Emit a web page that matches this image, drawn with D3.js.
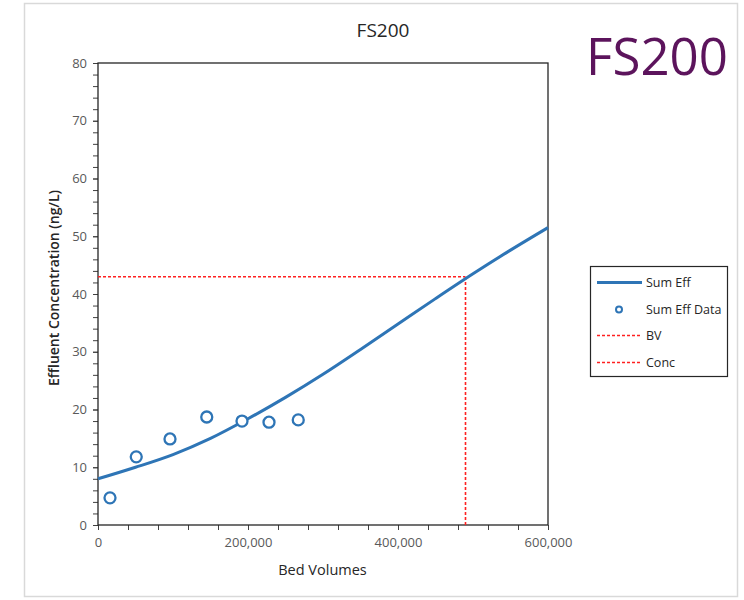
<!DOCTYPE html>
<html>
<head>
<meta charset="utf-8">
<script src="https://cdn.jsdelivr.net/npm/d3@7"></script>
<style>
  body { margin: 0; background: #fff; }
  text { font-family: "Open Sans", "Liberation Sans", sans-serif; }
</style>
</head>
<body>
<svg width="744" height="600"></svg>
<script>
// fitted curve (Sum Eff)
var curveBV = [0, 50000, 100000, 150000, 200000, 250000, 300000, 350000, 400000, 450000, 500000, 550000, 600000];
var curveConc = [8.0, 10.0, 12.2, 15.0, 18.4, 22.1, 26.1, 30.4, 34.8, 39.2, 43.5, 47.6, 51.5];

// measured points (Sum Eff Data)
var dataBV = [16000, 51000, 96000, 145000, 192000, 228000, 267000];
var dataConc = [4.7, 11.8, 14.9, 18.7, 18.0, 17.8, 18.2];

// breakthrough marker
var markBV = 490000;
var markConc = 43;

var xTicks = [0, 200000, 400000, 600000];
var yTicks = [0, 10, 20, 30, 40, 50, 60, 70, 80];
var legendNames = ["Sum Eff", "Sum Eff Data", "BV", "Conc"];

var blue = "#2e75b6", red = "#ff2020", grey = "#595959";

var svg = d3.select("svg");

// outer frame
svg.append("rect")
	.attr("x", 24.5).attr("y", 3.5)
	.attr("width", 713).attr("height", 593)
	.attr("fill", "#fff")
	.attr("stroke", "#d9d9d9")
	.attr("stroke-width", 1.5);

var pLeft = 98, pTop = 63, pRight = 548, pBottom = 525;

var x = d3.scaleLinear().domain([0, 600000]).range([pLeft, pRight]);
var y = d3.scaleLinear().domain([0, 80]).range([pBottom, pTop]);

// minor ticks
svg.append("g")
	.attr("transform", "translate(" + pLeft + ",0)")
	.call(d3.axisLeft(y).tickValues(d3.range(0, 81, 2)).tickSize(5).tickFormat(""))
	.call(function (g) { g.select(".domain").remove(); })
	.selectAll("line").attr("stroke", "#404040");

svg.append("g")
	.attr("transform", "translate(0," + pBottom + ")")
	.call(d3.axisBottom(x).tickValues(d3.range(0, 600001, 40000)).tickSize(5).tickFormat(""))
	.call(function (g) { g.select(".domain").remove(); })
	.selectAll("line").attr("stroke", "#404040");

// labelled ticks
var yAxis = svg.append("g")
	.attr("transform", "translate(" + pLeft + ",0)")
	.call(d3.axisLeft(y).tickValues(yTicks).tickSize(5).tickPadding(6));
yAxis.select(".domain").remove();
yAxis.selectAll("line").attr("stroke", "#404040");
yAxis.selectAll("text").attr("fill", grey).style("font-size", "13px")
	.style("font-family", "'Open Sans', sans-serif");

var xAxis = svg.append("g")
	.attr("transform", "translate(0," + pBottom + ")")
	.call(d3.axisBottom(x).tickValues(xTicks).tickSize(5).tickPadding(8).tickFormat(d3.format(",")));
xAxis.select(".domain").remove();
xAxis.selectAll("line").attr("stroke", "#404040");
xAxis.selectAll("text").attr("fill", grey).style("font-size", "13px")
	.style("font-family", "'Open Sans', sans-serif");

// plot box
svg.append("rect")
	.attr("x", pLeft).attr("y", pTop)
	.attr("width", pRight - pLeft).attr("height", pBottom - pTop)
	.attr("fill", "none")
	.attr("stroke", "#262626")
	.attr("stroke-width", 1.3);

// dashed guides
svg.append("path")
	.attr("d", d3.line()([[x(0), y(markConc)], [x(markBV), y(markConc)]]))
	.attr("stroke", red).attr("stroke-width", 1.6).attr("stroke-dasharray", "3,2").attr("fill", "none");
svg.append("path")
	.attr("d", d3.line()([[x(markBV), y(0)], [x(markBV), y(markConc)]]))
	.attr("stroke", red).attr("stroke-width", 1.6).attr("stroke-dasharray", "3,2").attr("fill", "none");

// fitted curve
var line = d3.line()
	.x(function (d, i) { return x(curveBV[i]); })
	.y(function (d) { return y(d); })
	.curve(d3.curveCatmullRom);
svg.append("path")
	.datum(curveConc)
	.attr("d", line)
	.attr("fill", "none")
	.attr("stroke", blue)
	.attr("stroke-width", 3);

// data points
svg.append("g").selectAll("circle")
	.data(dataConc)
	.enter().append("circle")
	.attr("cx", function (d, i) { return x(dataBV[i]); })
	.attr("cy", function (d) { return y(d); })
	.attr("r", 5.5)
	.attr("fill", "#fff")
	.attr("stroke", blue)
	.attr("stroke-width", 2.3);

// titles
svg.append("text")
	.attr("x", 383).attr("y", 37)
	.attr("text-anchor", "middle")
	.attr("fill", "#262626")
	.style("font-size", "19px")
	.text("FS200");

svg.append("text")
	.attr("x", 657).attr("y", 75)
	.attr("text-anchor", "middle")
	.attr("fill", "#5c145c")
	.style("font-size", "51px")
	.text("FS200");

svg.append("text")
	.attr("x", (pLeft + pRight) / 2 - 0.5).attr("y", 575)
	.attr("text-anchor", "middle")
	.attr("fill", "#262626")
	.style("font-size", "14.5px")
	.text("Bed Volumes");

svg.append("text")
	.attr("transform", "translate(59,288) rotate(-90)")
	.attr("text-anchor", "middle")
	.attr("fill", "#262626")
	.style("font-size", "14px")
	.style("font-weight", "600")
	.text("Effluent Concentration (ng/L)");

// legend
var lg = svg.append("g");
lg.append("rect")
	.attr("x", 590.5).attr("y", 266.5)
	.attr("width", 137).attr("height", 110)
	.attr("fill", "#fff").attr("stroke", "#262626").attr("stroke-width", 1.2);

var ly = d3.scalePoint().domain(legendNames).range([282, 362]);
legendNames.forEach(function (name, i) {
	var yy = Math.round(ly(name)) + 0.5;
	if (i === 0) {
		lg.append("line").attr("x1", 597).attr("x2", 642).attr("y1", yy).attr("y2", yy)
			.attr("stroke", blue).attr("stroke-width", 3);
	} else if (i === 1) {
		lg.append("circle").attr("cx", 619).attr("cy", yy).attr("r", 3)
			.attr("fill", "#fff").attr("stroke", blue).attr("stroke-width", 2);
	} else {
		lg.append("line").attr("x1", 597).attr("x2", 642).attr("y1", yy).attr("y2", yy)
			.attr("stroke", red).attr("stroke-width", 1.6).attr("stroke-dasharray", "3,2");
	}
	lg.append("text").attr("x", 646).attr("y", yy + 4.5)
		.attr("fill", "#262626").style("font-size", "12.5px")
		.text(name);
});
</script>
</body>
</html>
